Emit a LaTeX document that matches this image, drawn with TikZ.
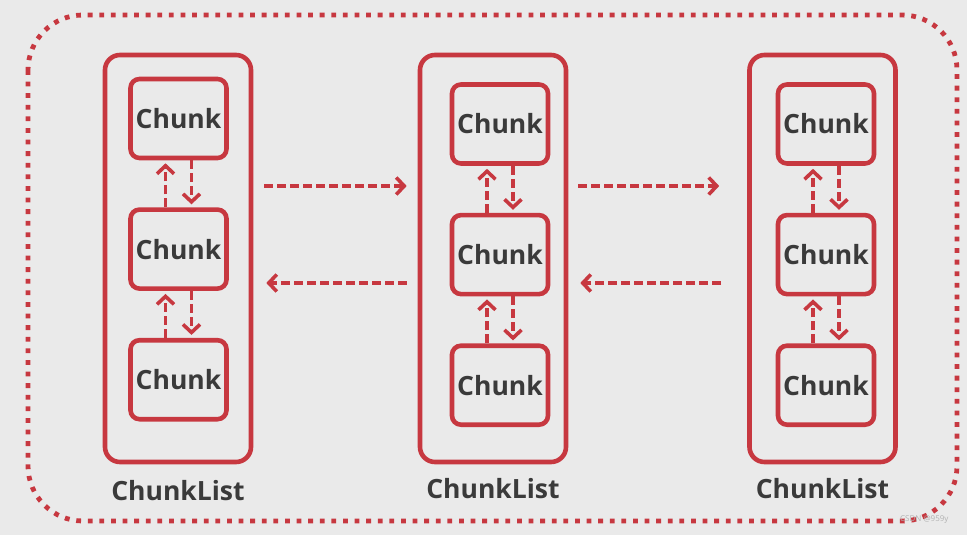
\documentclass[tikz,border=0pt]{standalone}
\usepackage{fontspec}
\setsansfont{Open Sans}
\usetikzlibrary{arrows.meta, positioning, calc}
\definecolor{boxred}{RGB}{199,56,64}
\definecolor{inkgray}{RGB}{58,58,58}
\definecolor{paper}{RGB}{234,234,234}
\newcommand{\LabelFont}{\sffamily\bfseries\fontsize{26.5}{30}\selectfont}
\tikzset{
    chunk/.style={draw=boxred, line width=4.6pt, rounded corners=9pt, minimum width=96pt, minimum height=79pt, inner sep=0pt, text=inkgray, font=\LabelFont},
    chunklist/.style={draw=boxred, line width=4.6pt, rounded corners=15pt, minimum width=146pt, minimum height=407pt, inner sep=0pt},
    listname/.style={text=inkgray, font=\LabelFont, inner sep=0pt},
    link/.style={boxred, line width=3.6pt, dash pattern=on 9pt off 4pt, -{Straight Barb[length=8pt, width=17pt]}},
}

\begin{document}
\begin{tikzpicture}[x=1pt, y=-1pt]
    \tikzset{
      node distance=47pt,
    }
    \fill[paper] (0,0) rectangle (967,535);
    \useasboundingbox (0,0) rectangle (967,535);

    % outer frame
    \draw[boxred, line width=4.8pt, dash pattern=on 4.8pt off 6.8pt, rounded corners=55pt] (28,15) rectangle (957,521);

    % the three lists
    \node[chunklist] (l1) at (178,258.5) {};
    \node[chunklist] (l2) at (493,258.5) {};
    \node[chunklist] (l3) at (822.5,258.5) {};

    \node[listname, below=16pt of l1] (n1) {ChunkList};
    \node[listname, below=14pt of l2] (n2) {ChunkList};
    \node[listname, below=14pt of l3] (n3) {ChunkList};

    \node[chunk] (a1) at (178.5,118.5) {Chunk};
    \node[chunk, below=of a1] (a2) {Chunk};
    \node[chunk, below=of a2] (a3) {Chunk};

    \node[chunk] (b1) at (500,124) {Chunk};
    \node[chunk, below=of b1] (b2) {Chunk};
    \node[chunk, below=of b2] (b3) {Chunk};

    \node[chunk] (c1) at (826,124) {Chunk};
    \node[chunk, below=of c1] (c2) {Chunk};
    \node[chunk, below=of c2] (c3) {Chunk};

    % links inside each list
    \foreach \p/\q in {a1/a2, a2/a3, b1/b2, b2/b3, c1/c2, c2/c3} {
      \draw[link, shorten >=3pt] ([xshift=-13pt]\q.north) -- ([xshift=-13pt]\p.south);
      \draw[link, shorten >=3pt] ([xshift=13pt]\p.south) -- ([xshift=13pt]\q.north);
    }

    % links between the lists
    \draw[link, shorten <=11pt, shorten >=11pt] (l1.east |- 0,186) -- (l2.west |- 0,186);
    \draw[link, shorten <=11pt, shorten >=13pt] (l2.west |- 0,283) -- (l1.east |- 0,283);
    \draw[link, shorten <=10pt, shorten >=28pt] (l2.east |- 0,186) -- (l3.west |- 0,186);
    \draw[link, shorten <=26pt, shorten >=12pt] (l3.west |- 0,283) -- (l2.east |- 0,283);

    \node[text=gray!60, font=\sffamily\fontsize{8}{9}\selectfont, anchor=east] (mark) at (952,520) {CSDN @959y};
\end{tikzpicture}
\end{document}
